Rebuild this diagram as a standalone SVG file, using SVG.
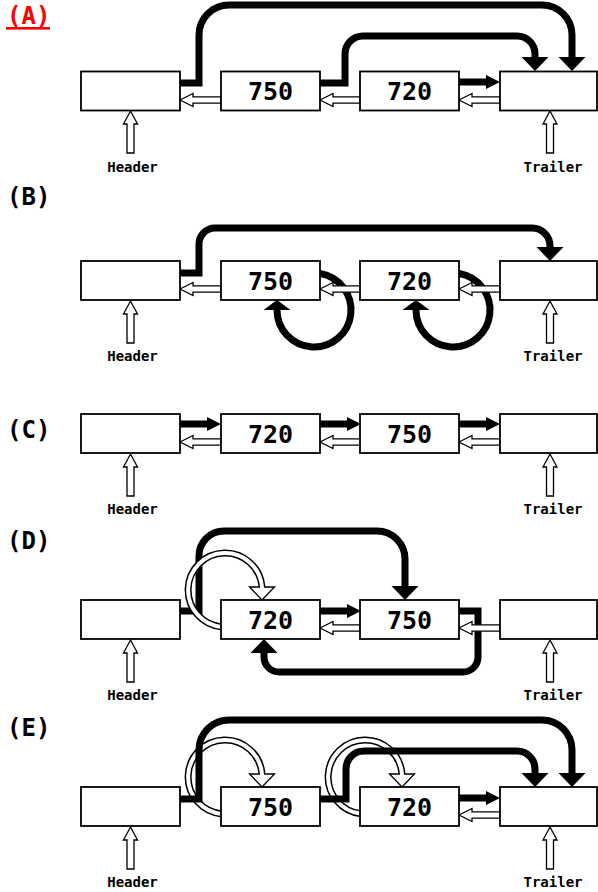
<svg xmlns="http://www.w3.org/2000/svg" width="598" height="892" viewBox="0 0 598 892">
<style>
.box{fill:#fff;stroke:#000;stroke-width:1.8}
.num{font-family:"DejaVu Sans Mono","Liberation Mono",monospace;font-weight:bold;font-size:25px;text-anchor:middle;fill:#000}
.lbl{font-family:"DejaVu Sans Mono","Liberation Mono",monospace;font-weight:bold;font-size:14px;text-anchor:middle;fill:#000}
.sec{font-family:"DejaVu Sans Mono","Liberation Mono",monospace;font-weight:bold;font-size:24px;fill:#000}
.thick{fill:none;stroke:#000;stroke-width:7}
.hol{fill:#fff;stroke:#000;stroke-width:1.3;stroke-linejoin:miter}
.ringo{fill:none;stroke:#000;stroke-width:7}
.ringi{fill:none;stroke:#fff;stroke-width:4}
.blk{fill:#000}
</style>
<defs>
<path id="hl" class="hol" d="M0,0 L13,-6.5 L13,-3.2 L41,-3.2 L41,3.2 L13,3.2 L13,6.5 Z"/>
<path id="tr" class="blk" d="M0,-3.5 H27 V-7 L41,0 L27,7 V3.5 H0 Z"/>
<path id="hu" class="hol" d="M0,0 L7,13 L3.5,13 L3.5,42 L-3.5,42 L-3.5,13 L-7,13 Z"/>
<path id="bd" class="blk" d="M0,0 L-13.5,-14 L13.5,-14 Z"/>
<path id="bu" class="blk" d="M0,0 L13.5,14 L-13.5,14 Z"/>
<path id="bu2" class="blk" d="M0,0 L13.5,10 L-13.5,10 Z"/>
<path id="hd" class="hol" d="M0,0 L-12.5,-13 L12.5,-13 Z"/>
</defs>

<g id="labels">
<text class="sec" x="7" y="24" style="fill:#ff0000">(A)</text>
<rect x="6" y="27" width="44" height="2.6" fill="#ff0000"/>
<text class="sec" x="7" y="205">(B)</text>
<text class="sec" x="7" y="438">(C)</text>
<text class="sec" x="7" y="549">(D)</text>
<text class="sec" x="7" y="736">(E)</text>
</g>

<g id="connectors-a">
<path class="thick" d="M180,83 H199 V35 A30,30 0 0 1 229,5 H542 A30,30 0 0 1 572,35 V58"/>
<use href="#bd" x="572" y="71"/>
<path class="thick" d="M320,83 H345 V54 A18,18 0 0 1 363,36 H517 A18,18 0 0 1 535,54 V58"/>
<use href="#bd" x="535" y="71"/>
<use href="#tr" x="459" y="82"/>
<use href="#hl" x="180" y="100"/>
<use href="#hl" x="320" y="100"/>
<use href="#hl" x="459" y="100"/>
<use href="#hu" x="130.5" y="111"/>
<use href="#hu" x="550" y="111"/>
</g>

<g id="connectors-b">
<path class="thick" d="M180,273 H199 V244 A16,16 0 0 1 215,228 H532 A18,18 0 0 1 550,246 V248"/>
<use href="#bd" x="550" y="261"/>
<path class="thick" d="M320,273.5 A37,37 0 1 1 277,310"/>
<use href="#bu2" x="277" y="300"/>
<path class="thick" d="M459,273.5 A37,37 0 1 1 416,310"/>
<use href="#bu2" x="416" y="300"/>
<use href="#hl" x="180" y="289"/>
<use href="#hl" x="320" y="289"/>
<use href="#hl" x="459" y="289"/>
<use href="#hu" x="130.5" y="301"/>
<use href="#hu" x="550" y="301"/>
</g>

<g id="connectors-c">
<use href="#tr" x="180" y="424"/>
<use href="#tr" x="320" y="424"/>
<use href="#tr" x="459" y="424"/>
<use href="#hl" x="180" y="442"/>
<use href="#hl" x="320" y="442"/>
<use href="#hl" x="459" y="442"/>
<use href="#hu" x="130.5" y="454"/>
<use href="#hu" x="550" y="454"/>
</g>

<g id="connectors-d">
<path class="thick" d="M180,611 H199 V556 A25,25 0 0 1 224,531 H377 A28,28 0 0 1 405,559 V587"/>
<use href="#bd" x="405" y="600"/>
<path class="thick" d="M459,611 H478 V657 A15,15 0 0 1 463,672 H279 A15,15 0 0 1 264,657 V652"/>
<use href="#bu" x="264" y="639"/>
<use href="#tr" x="320" y="611"/>
<use href="#hl" x="320" y="628"/>
<use href="#hl" x="459" y="628"/>
<path class="ringo" d="M222,626.9 A37,37 0 1 1 262,587"/>
<use href="#hd" x="262" y="600"/>
<path class="ringi" d="M222,626.9 A37,37 0 1 1 262,587 V588"/>
<use href="#hu" x="130.5" y="640"/>
<use href="#hu" x="550" y="640"/>
</g>

<g id="connectors-e">
<path class="ringo" d="M222,813.9 A37,37 0 1 1 262,774"/>
<use href="#hd" x="262" y="787"/>
<path class="ringi" d="M222,813.9 A37,37 0 1 1 262,774 V775"/>
<path class="ringo" d="M361,813.8 A37,37 0 1 1 402,774"/>
<use href="#hd" x="402" y="787"/>
<path class="ringi" d="M361,813.8 A37,37 0 1 1 402,774 V775"/>
<path class="thick" d="M180,799 H199 V750 A30,30 0 0 1 229,720 H542 A30,30 0 0 1 572,750 V774"/>
<use href="#bd" x="572" y="787"/>
<path class="thick" d="M320,799 H346 V769 A18,18 0 0 1 364,751 H517 A18,18 0 0 1 535,769 V774"/>
<use href="#bd" x="535" y="787"/>
<use href="#tr" x="459" y="798"/>
<use href="#hl" x="459" y="815"/>
<use href="#hu" x="130.5" y="827"/>
<use href="#hu" x="550" y="827"/>
</g>

<g id="a-header"><rect class="box" x="81" y="71.5" width="99" height="39"/><text class="lbl" x="132.5" y="172">Header</text></g>
<g id="a-750"><rect class="box" x="221" y="71.5" width="99" height="39"/><text class="num" x="270.5" y="100">750</text></g>
<g id="a-720"><rect class="box" x="360" y="71.5" width="99" height="39"/><text class="num" x="409.5" y="100">720</text></g>
<g id="a-trailer"><rect class="box" x="500" y="71.5" width="97" height="39"/><text class="lbl" x="553" y="172">Trailer</text></g>

<g id="b-header"><rect class="box" x="81" y="261" width="99" height="39"/><text class="lbl" x="132.5" y="361">Header</text></g>
<g id="b-750"><rect class="box" x="221" y="261" width="99" height="39"/><text class="num" x="270.5" y="289.5">750</text></g>
<g id="b-720"><rect class="box" x="360" y="261" width="99" height="39"/><text class="num" x="409.5" y="289.5">720</text></g>
<g id="b-trailer"><rect class="box" x="500" y="261" width="97" height="39"/><text class="lbl" x="553" y="361">Trailer</text></g>

<g id="c-header"><rect class="box" x="81" y="414" width="99" height="39"/><text class="lbl" x="132.5" y="514">Header</text></g>
<g id="c-720"><rect class="box" x="221" y="414" width="99" height="39"/><text class="num" x="270.5" y="442.5">720</text></g>
<g id="c-750"><rect class="box" x="360" y="414" width="99" height="39"/><text class="num" x="409.5" y="442.5">750</text></g>
<g id="c-trailer"><rect class="box" x="500" y="414" width="97" height="39"/><text class="lbl" x="553" y="514">Trailer</text></g>

<g id="d-header"><rect class="box" x="81" y="600" width="99" height="39"/><text class="lbl" x="132.5" y="700">Header</text></g>
<g id="d-720"><rect class="box" x="221" y="600" width="99" height="39"/><text class="num" x="270.5" y="628.5">720</text></g>
<g id="d-750"><rect class="box" x="360" y="600" width="99" height="39"/><text class="num" x="409.5" y="628.5">750</text></g>
<g id="d-trailer"><rect class="box" x="500" y="600" width="97" height="39"/><text class="lbl" x="553" y="700">Trailer</text></g>

<g id="e-header"><rect class="box" x="81" y="787" width="99" height="39"/><text class="lbl" x="132.5" y="887">Header</text></g>
<g id="e-750"><rect class="box" x="221" y="787" width="99" height="39"/><text class="num" x="270.5" y="815.5">750</text></g>
<g id="e-720"><rect class="box" x="360" y="787" width="99" height="39"/><text class="num" x="409.5" y="815.5">720</text></g>
<g id="e-trailer"><rect class="box" x="500" y="787" width="97" height="39"/><text class="lbl" x="553" y="887">Trailer</text></g>
</svg>
